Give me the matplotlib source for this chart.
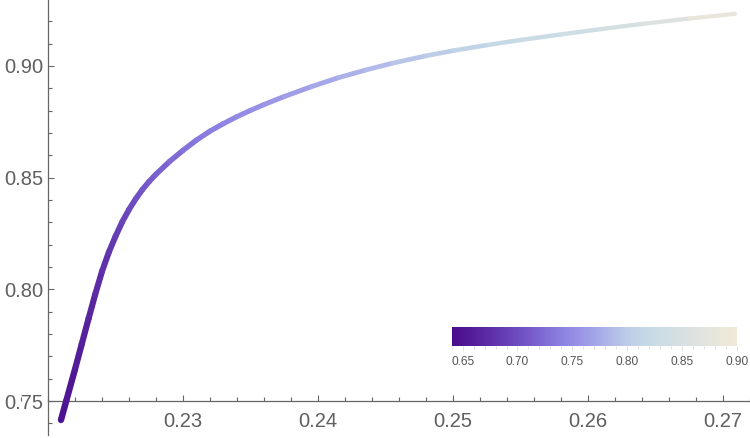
import numpy as np
import matplotlib
matplotlib.use("Agg")
import matplotlib.pyplot as plt
from matplotlib.collections import LineCollection
from matplotlib.colors import LinearSegmentedColormap, Normalize
from matplotlib.cm import ScalarMappable
from matplotlib.ticker import MultipleLocator, FixedLocator

# ---- data ----
curve_x = [0.22096, 0.22135, 0.22200, 0.22250, 0.22300, 0.22350, 0.22400, 0.22450,
           0.22500, 0.22550, 0.22600, 0.22650, 0.22700, 0.22750, 0.22800, 0.22900,
           0.23000, 0.23100, 0.23200, 0.23300, 0.23400, 0.23500, 0.23600, 0.23750,
           0.23950, 0.24150, 0.24350, 0.24550, 0.24800, 0.25000, 0.25250, 0.25500,
           0.25800, 0.26100, 0.26400, 0.26750, 0.27089]
curve_y = [0.7415, 0.7500, 0.7642, 0.7755, 0.7868, 0.7978, 0.8080, 0.8165,
           0.8237, 0.8302, 0.8357, 0.8405, 0.8447, 0.8483, 0.8515, 0.8572,
           0.8622, 0.8668, 0.8708, 0.8742, 0.8773, 0.8801, 0.8827, 0.8863,
           0.8907, 0.8947, 0.8981, 0.9012, 0.9045, 0.9068, 0.9093, 0.9116,
           0.9141, 0.9165, 0.9188, 0.9212, 0.9233]
curve_c = [0.645, 0.648, 0.655, 0.660, 0.665, 0.671, 0.676, 0.681,
           0.687, 0.692, 0.698, 0.703, 0.707, 0.711, 0.715, 0.721,
           0.727, 0.733, 0.738, 0.743, 0.748, 0.752, 0.756, 0.762,
           0.769, 0.776, 0.783, 0.790, 0.799, 0.806, 0.814, 0.822,
           0.831, 0.840, 0.852, 0.870, 0.895]

x_major = [0.23, 0.24, 0.25, 0.26, 0.27]
y_major = [0.75, 0.80, 0.85, 0.90]
cbar_ticks = [0.65, 0.70, 0.75, 0.80, 0.85, 0.90]
cbar_range = (0.64, 0.90)

cmap_vals = [0.64, 0.67, 0.70, 0.74, 0.77, 0.80, 0.82, 0.86, 0.90]
cmap_cols = ["#4A0C8A", "#5A28A2", "#6E4CC0", "#8C80E2", "#A4A4E8",
             "#BCCCE8", "#C6DAE6", "#DCE2E0", "#F1E9D8"]

# ---- figure ----
plt.rcParams['font.family'] = ['Liberation Sans', 'DejaVu Sans']
W, H = 750, 438
fig = plt.figure(figsize=(W / 100, H / 100), dpi=100)
ax = fig.add_axes([0, 0, 1, 1])
ax.set_xlim(0.216444, 0.272)
ax.set_ylim(0.73344, 0.9295)
ax.patch.set_visible(False)

norm = Normalize(*cbar_range)
pos = [(v - cbar_range[0]) / (cbar_range[1] - cbar_range[0]) for v in cmap_vals]
cmap = LinearSegmentedColormap.from_list("pal", list(zip(pos, cmap_cols)))

xs = np.array(curve_x)
ys = np.array(curve_y)
cs = np.array(curve_c)
pts = np.column_stack([xs, ys]).reshape(-1, 1, 2)
segs = np.concatenate([pts[:-1], pts[1:]], axis=1)
seg_c = (cs[:-1] + cs[1:]) / 2
nseg = len(segs)
lws = np.linspace(4.6, 3.0, nseg)
lc = LineCollection(segs, colors=cmap(norm(seg_c)), linewidths=lws,
                    capstyle='round', joinstyle='round', zorder=3)
ax.add_collection(lc)

axcol = "#666666"
for s in ['top', 'right']:
    ax.spines[s].set_visible(False)
ax.spines['left'].set_position(('data', 0.22))
ax.spines['bottom'].set_position(('data', 0.75))
ax.spines['left'].set_bounds(0.7348, 0.9295)
ax.spines['bottom'].set_bounds(0.22, 0.272)
for s in ['left', 'bottom']:
    ax.spines[s].set_color(axcol)
    ax.spines[s].set_linewidth(0.9)

ax.xaxis.set_major_locator(FixedLocator(x_major))
ax.xaxis.set_minor_locator(MultipleLocator(0.002))
ax.yaxis.set_major_locator(FixedLocator(y_major))
ax.yaxis.set_minor_locator(MultipleLocator(0.01))
ax.set_xticklabels([f"{v:.2f}" for v in x_major])
ax.set_yticklabels([f"{v:.2f}" for v in y_major])
ax.tick_params(axis='both', which='both', direction='in', color=axcol, width=0.8)
ax.tick_params(axis='both', which='major', length=4.0, labelsize=14.5, labelcolor="#5f5f5f")
ax.tick_params(axis='both', which='minor', length=2.6)
ax.tick_params(axis='x', which='major', pad=8.0)
ax.tick_params(axis='y', which='major', pad=3.6)

# ---- colour bar legend ----
cax = fig.add_axes([451.7 / W, (H - 345.7) / H, 285 / W, 19 / H])
cb = fig.colorbar(ScalarMappable(norm=norm, cmap=cmap), cax=cax, orientation='horizontal')
cb.outline.set_visible(False)
cb.set_ticks(cbar_ticks)
cb.ax.set_xticklabels([f"{v:.2f}" for v in cbar_ticks])
cb.ax.xaxis.set_minor_locator(MultipleLocator(0.01))
cb.ax.tick_params(which='both', direction='out', color="#dddddd", width=0.6)
cb.ax.tick_params(which='major', length=3.5, labelsize=8.6, labelcolor="#555555", pad=4)
cb.ax.tick_params(which='minor', length=2.5)

fig.savefig("out.png", dpi=100)
